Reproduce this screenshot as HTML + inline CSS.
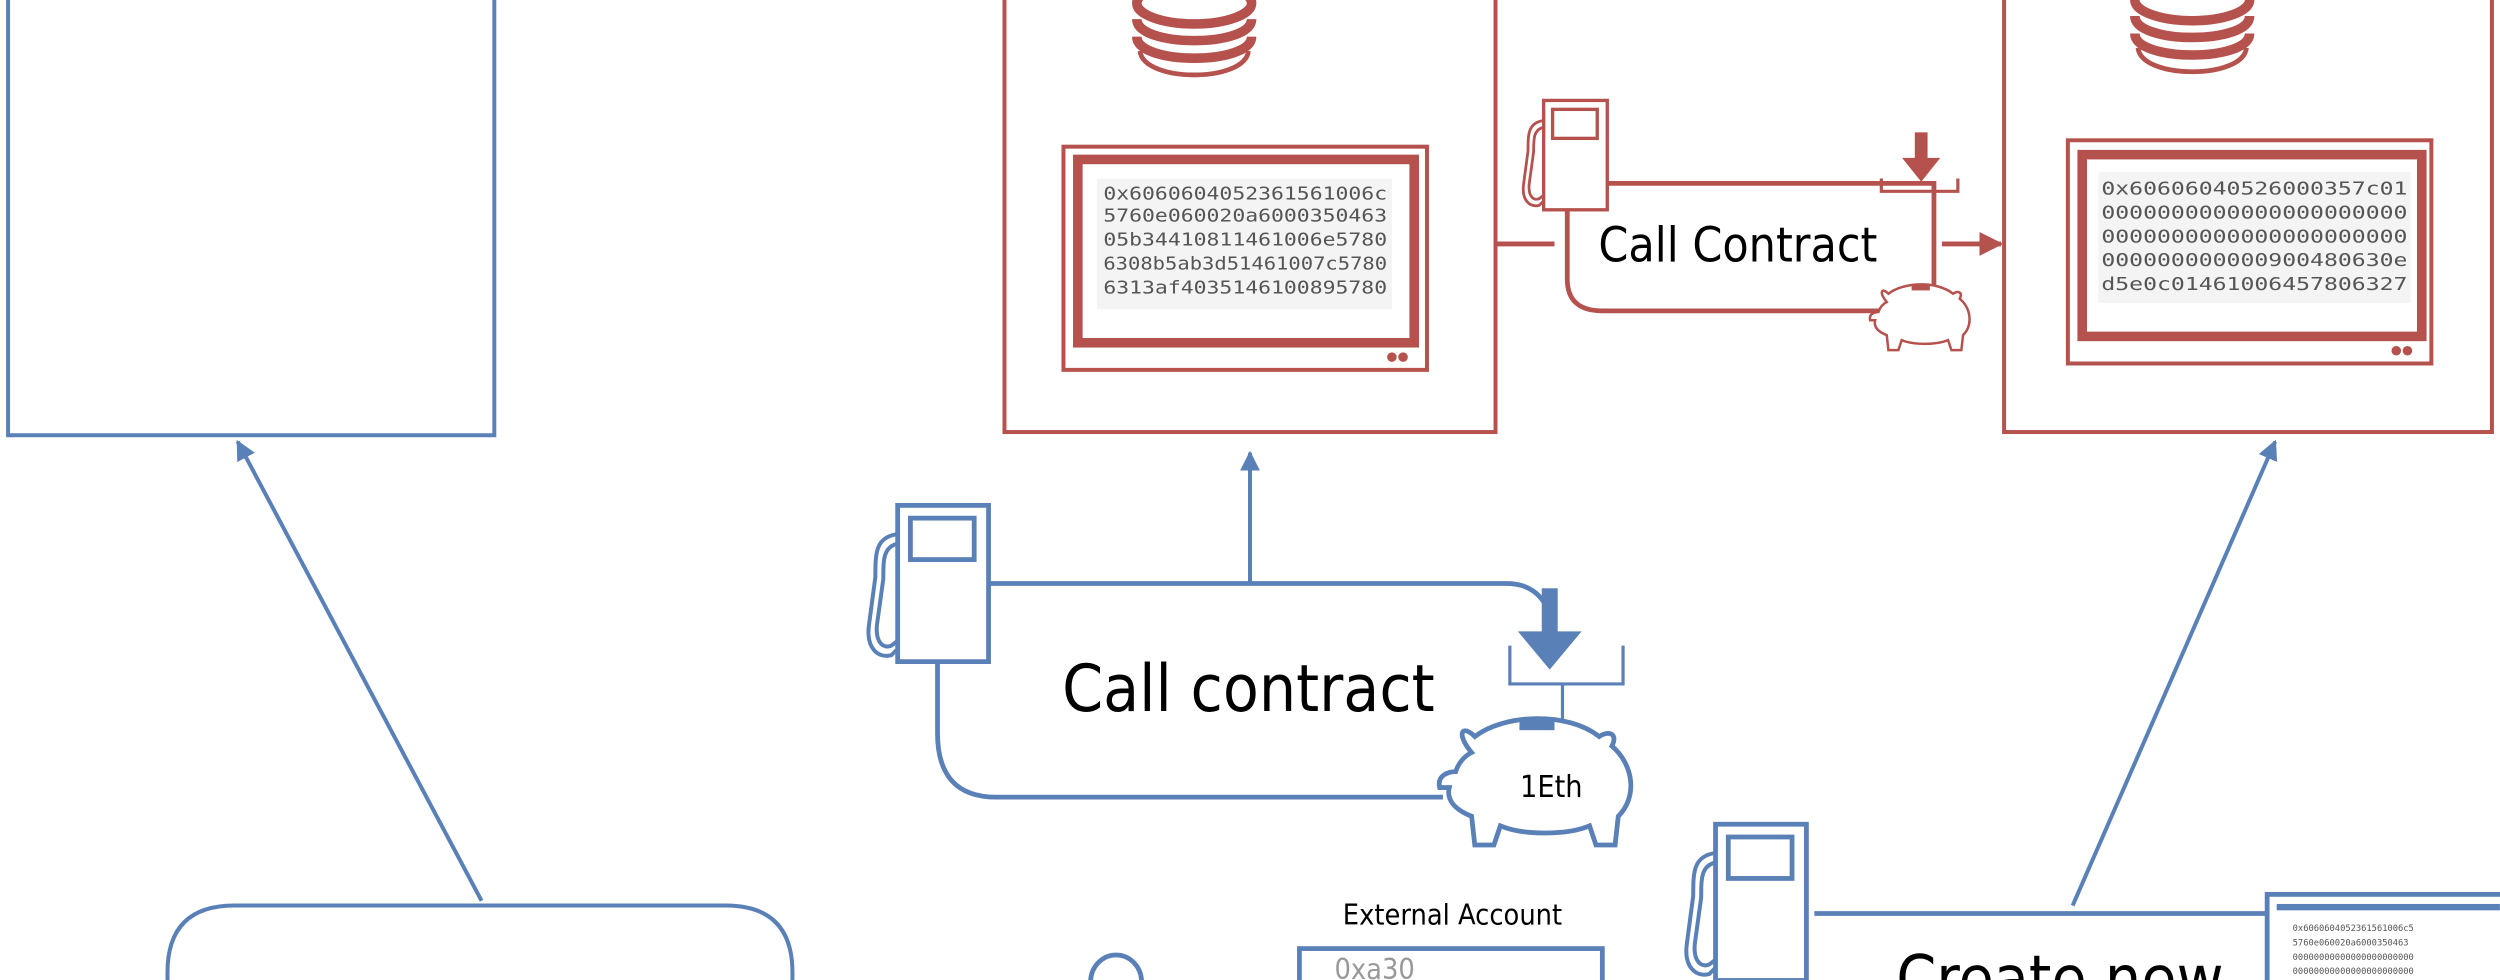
<!DOCTYPE html>
<html><head><meta charset="utf-8"><style>
html,body{margin:0;padding:0;background:#fff;}
svg{display:block;}
.t{font-family:"DejaVu Sans Condensed","DejaVu Sans","Liberation Sans",sans-serif;}
.m{font-family:"DejaVu Sans Mono","Liberation Mono",monospace;fill:#555;}
</style></head><body>
<svg width="2500" height="980" viewBox="0 0 1568 614.7" xmlns="http://www.w3.org/2000/svg">
<defs>
<marker id="ab" viewBox="0 0 10 10" refX="9" refY="5" markerWidth="5" markerHeight="5" orient="auto-start-reverse"><path d="M0,0 L10,5 L0,10 z" fill="#5a80b8"/></marker>
<marker id="ar" viewBox="0 0 10 10" refX="9" refY="5" markerWidth="5" markerHeight="5" orient="auto"><path d="M0,0 L10,5 L0,10 z" fill="#b5524d"/></marker>
<g id="pump">
 <rect x="26" y="0" width="57" height="98" fill="#fff" stroke="currentColor" stroke-width="3"/>
 <rect x="34" y="8" width="40" height="26" fill="#fff" stroke="currentColor" stroke-width="3"/>
 <path d="M26,18 C12,20 12,30 12,45 L8,75 C6,90 14,96 22,94 L26,90" fill="none" stroke="currentColor" stroke-width="2.5"/>
 <path d="M26,24 C17,26 17,34 17,46 L13,75 C12,86 17,90 22,88 L26,85" fill="none" stroke="currentColor" stroke-width="2.5"/>
</g>
<g id="pig">
 <path d="M20,22 C10,10 14,4 22,12 C40,-2 80,-4 100,12 C106,8 112,10 108,18 C122,30 124,50 112,62 L110,80 L98,80 L94,68 C80,74 52,74 38,68 L34,80 L22,80 L20,62 C10,58 4,52 6,44 L0,44 C-2,36 6,34 10,34 C12,28 16,24 20,22 Z" fill="#fff" stroke="currentColor" stroke-width="3"/>
 <rect x="50" y="2" width="22" height="6" fill="currentColor"/>
</g>
<g id="coins">
 <ellipse cx="37" cy="-8" rx="36" ry="13" fill="none" stroke="#b5524d" stroke-width="6"/>
 <path d="M1,2 C1,20 73,20 73,2" fill="none" stroke="#b5524d" stroke-width="6"/>
 <path d="M1,13 C1,31 73,31 73,13" fill="none" stroke="#b5524d" stroke-width="6"/>
 <path d="M3,22 C5,42 69,42 71,22" fill="none" stroke="#b5524d" stroke-width="3"/>
</g>
</defs>

<!-- left blue -->
<rect x="5" y="-10" width="305" height="283" fill="#fff" stroke="#5a80b8" stroke-width="2.5"/>
<line x1="302" y1="565" x2="149" y2="277" stroke="#5a80b8" stroke-width="2.5" marker-end="url(#ab)"/>
<path d="M105,640 L105,610 Q105,568 147,568 L455,568 Q497,568 497,610 L497,640" fill="#fff" stroke="#5a80b8" stroke-width="2.5"/>

<!-- red box 1 -->
<rect x="630" y="-10" width="308" height="281" fill="#fff" stroke="#b5524d" stroke-width="2.5"/>
<use href="#coins" x="712" y="10"/>
<rect x="667" y="92" width="228" height="140" fill="#fff" stroke="#b5524d" stroke-width="2.5"/>
<rect x="676" y="100" width="211" height="115" fill="#fff" stroke="#b5524d" stroke-width="6"/>
<circle cx="873" cy="224" r="3" fill="#b5524d"/><circle cx="880" cy="224" r="3" fill="#b5524d"/>
<rect x="688" y="112" width="185" height="82" fill="#f4f4f4"/>
<g class="m" font-size="11">
<text x="692" y="125" textLength="178" lengthAdjust="spacingAndGlyphs">0x6060604052361561006c</text>
<text x="692" y="139" textLength="178" lengthAdjust="spacingAndGlyphs">5760e060020a6000350463</text>
<text x="692" y="154" textLength="178" lengthAdjust="spacingAndGlyphs">05b34410811461006e5780</text>
<text x="692" y="169" textLength="178" lengthAdjust="spacingAndGlyphs">6308b5ab3d51461007c5780</text>
<text x="692" y="184" textLength="178" lengthAdjust="spacingAndGlyphs">6313af4035146100895780</text>
</g>

<!-- red call contract -->
<line x1="938" y1="153" x2="975" y2="153" stroke="#b5524d" stroke-width="3"/>
<path d="M1000,115 L1213,115 L1213,180 M1180,195 L1005,195 Q983,195 983,175 L983,128" fill="#fff" stroke="#b5524d" stroke-width="3"/>
<use href="#pump" x="0" y="0" transform="translate(950,63) scale(0.7)" style="color:#b5524d"/>
<text class="t" x="1090" y="164" font-size="30" text-anchor="middle" fill="#000">Call Contract</text>
<rect x="1201" y="83" width="8" height="18" fill="#b5524d"/>
<path d="M1193,99 L1217,99 L1205,114 Z" fill="#b5524d"/>
<path d="M1180,112 L1180,120 L1228,120 L1228,112" fill="none" stroke="#b5524d" stroke-width="2"/>
<line x1="1213" y1="120" x2="1213" y2="180" stroke="#b5524d" stroke-width="2"/>
<use href="#pig" transform="translate(1173,178) scale(0.52)" style="color:#b5524d"/>
<line x1="1218" y1="153" x2="1255" y2="153" stroke="#b5524d" stroke-width="3" marker-end="url(#ar)"/>

<!-- red box 2 -->
<rect x="1257" y="-10" width="306" height="281" fill="#fff" stroke="#b5524d" stroke-width="2.5"/>
<use href="#coins" x="1338" y="8"/>
<rect x="1297" y="88" width="228" height="140" fill="#fff" stroke="#b5524d" stroke-width="2.5"/>
<rect x="1306" y="97" width="213" height="114" fill="#fff" stroke="#b5524d" stroke-width="6"/>
<circle cx="1503" cy="220" r="3" fill="#b5524d"/><circle cx="1510" cy="220" r="3" fill="#b5524d"/>
<rect x="1316" y="108" width="196" height="82" fill="#f4f4f4"/>
<g class="m" font-size="11">
<text x="1318" y="122" textLength="192" lengthAdjust="spacingAndGlyphs">0x60606040526000357c01</text>
<text x="1318" y="137" textLength="192" lengthAdjust="spacingAndGlyphs">0000000000000000000000</text>
<text x="1318" y="152" textLength="192" lengthAdjust="spacingAndGlyphs">0000000000000000000000</text>
<text x="1318" y="167" textLength="192" lengthAdjust="spacingAndGlyphs">000000000000900480630e</text>
<text x="1318" y="182" textLength="192" lengthAdjust="spacingAndGlyphs">d5e0c01461006457806327</text>
</g>

<!-- blue call contract -->
<line x1="784" y1="366" x2="784" y2="284" stroke="#5a80b8" stroke-width="2.5" marker-end="url(#ab)"/>
<path d="M620,366 L945,366 Q965,366 972,385 M905,500 L625,500 Q588,500 588,460 L588,415" fill="#fff" stroke="#5a80b8" stroke-width="3"/>
<use href="#pump" transform="translate(537,317)" style="color:#5a80b8"/>
<text class="t" x="783" y="446" font-size="41" text-anchor="middle" fill="#000">Call contract</text>
<rect x="967" y="369" width="10" height="28" fill="#5a80b8"/>
<path d="M952,396 L992,396 L972,420 Z" fill="#5a80b8"/>
<path d="M947,405 L947,429 L1018,429 L1018,405" fill="none" stroke="#5a80b8" stroke-width="2"/>
<line x1="980" y1="429" x2="980" y2="452" stroke="#5a80b8" stroke-width="2"/>
<use href="#pig" transform="translate(903,450)" style="color:#5a80b8"/>
<text class="t" x="973" y="500" font-size="19" text-anchor="middle" fill="#000">1Eth</text>

<!-- right arrow -->
<line x1="1300" y1="568" x2="1427" y2="277" stroke="#5a80b8" stroke-width="2.5" marker-end="url(#ab)"/>

<!-- bottom -->
<text class="t" x="911" y="580" font-size="18" text-anchor="middle" fill="#000">External Account</text>
<rect x="815" y="595" width="190" height="40" fill="#fff" stroke="#5a80b8" stroke-width="3"/>
<text class="t" x="837" y="614" font-size="18" fill="#999">0xa30</text>
<ellipse cx="700" cy="616" rx="16" ry="17" fill="#fff" stroke="#5a80b8" stroke-width="3"/>
<path d="M1138,573 L1425,573" stroke="#5a80b8" stroke-width="3"/>
<use href="#pump" transform="translate(1050,517)" style="color:#5a80b8"/>
<text class="t" x="1292" y="628" font-size="40" text-anchor="middle" fill="#000">Create new</text>
<rect x="1422" y="561" width="150" height="60" fill="#fff" stroke="#5a80b8" stroke-width="3"/>
<rect x="1428" y="567" width="140" height="4" fill="#5a80b8"/>
<g class="m" font-size="5.5">
<text x="1438" y="584">0x6060604052361561006c5</text>
<text x="1438" y="593">5760e060020a6000350463</text>
<text x="1438" y="602">00000000000000000000000</text>
<text x="1438" y="611">00000000000000000000000</text>
</g>
</svg>
</body></html>
